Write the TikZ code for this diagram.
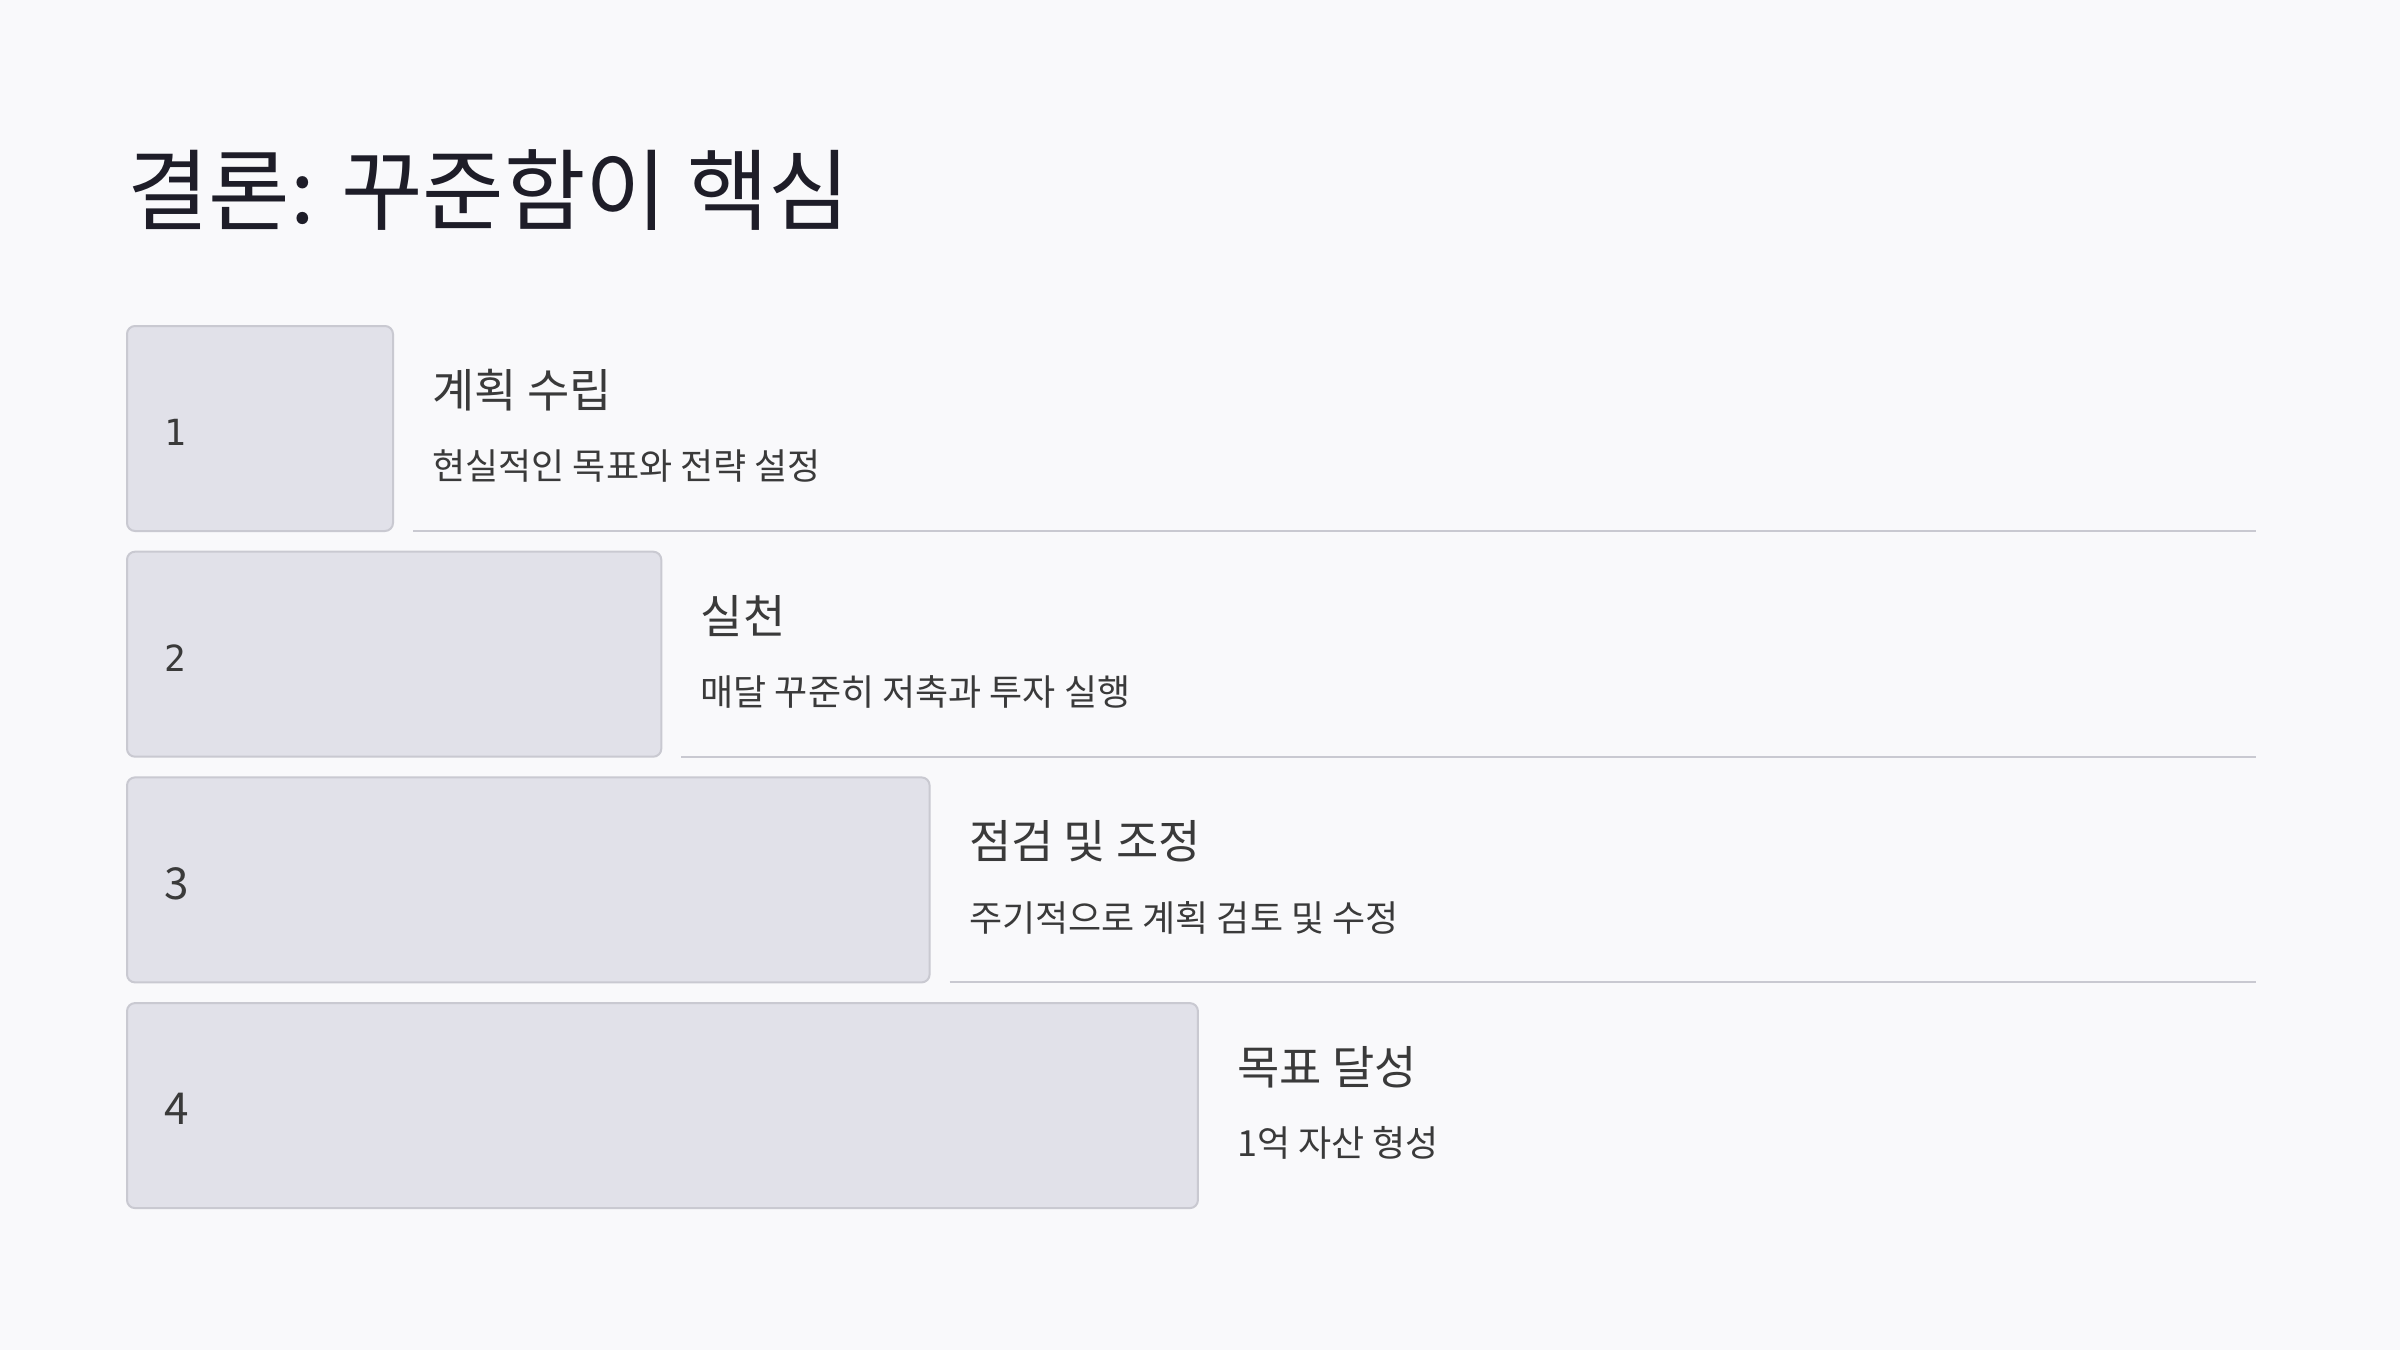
\documentclass[tikz,border=0pt]{standalone}
\usepackage{fontspec}
\setmainfont{Noto Sans CJK KR}
\newfontfamily\digitfont{DejaVu Sans Mono}
\definecolor{pagebg}{HTML}{F9F9FB}
\definecolor{boxfill}{HTML}{E1E1E9}
\definecolor{boxline}{HTML}{C9C9D1}
\definecolor{titleink}{HTML}{1E1D28}
\definecolor{textink}{HTML}{3A3A3A}
\tikzset{
	stepbox/.style={draw=boxline,fill=boxfill,line width=1pt,rounded corners=4pt},
	headtext/.style={anchor=west,inner sep=0pt,text=textink,font=\fontsize{23}{27}\selectfont},
	desctext/.style={anchor=west,inner sep=0pt,text=textink,font=\fontsize{18}{22}\selectfont},
	numtext/.style={anchor=west,inner sep=0pt,text=textink},
	sepline/.style={draw=boxline,line width=1pt},
}
\begin{document}
\begin{tikzpicture}[x=.5pt,y=-.5pt]
	\fill[pagebg] (0,0) rectangle (2400,1350);
	\useasboundingbox (0,0) rectangle (2400,1350);
	\node[anchor=west,inner sep=0pt,text=titleink,font=\fontsize{44.3}{53}\selectfont]
		(title) at (127,190) {결론: 꾸준함이 핵심};
	% steps, wider each time
	\foreach \i/\head/\desc/\numfont in {%
			1/계획 수립/현실적인 목표와 전략 설정/\digitfont\fontsize{18}{22}\selectfont,%
			2/실천/매달 꾸준히 저축과 투자 실행/\digitfont\fontsize{18}{22}\selectfont,%
			3/점검 및 조정/주기적으로 계획 검토 및 수정/\fontsize{22}{26}\selectfont,%
			4/목표 달성/1억 자산 형성/\fontsize{22}{26}\selectfont}
	{
		\pgfmathsetmacro{\top}{326+(\i-1)*225.7}
		\pgfmathsetmacro{\right}{393+(\i-1)*268.3}
		\draw[stepbox] (127,\top) rectangle (\right,\top+205);
		\node[numtext,font=\numfont] (num\i) at (164,\top+106) {\i};
		\node[headtext] (head\i) at (\right+39,\top+64) {\head};
		\node[desctext] (desc\i) at (\right+39,\top+140) {\desc};
		\ifnum\i<4
			\draw[sepline] (\right+20,\top+205) -- (2256,\top+205);
		\fi
	}
\end{tikzpicture}
\end{document}
